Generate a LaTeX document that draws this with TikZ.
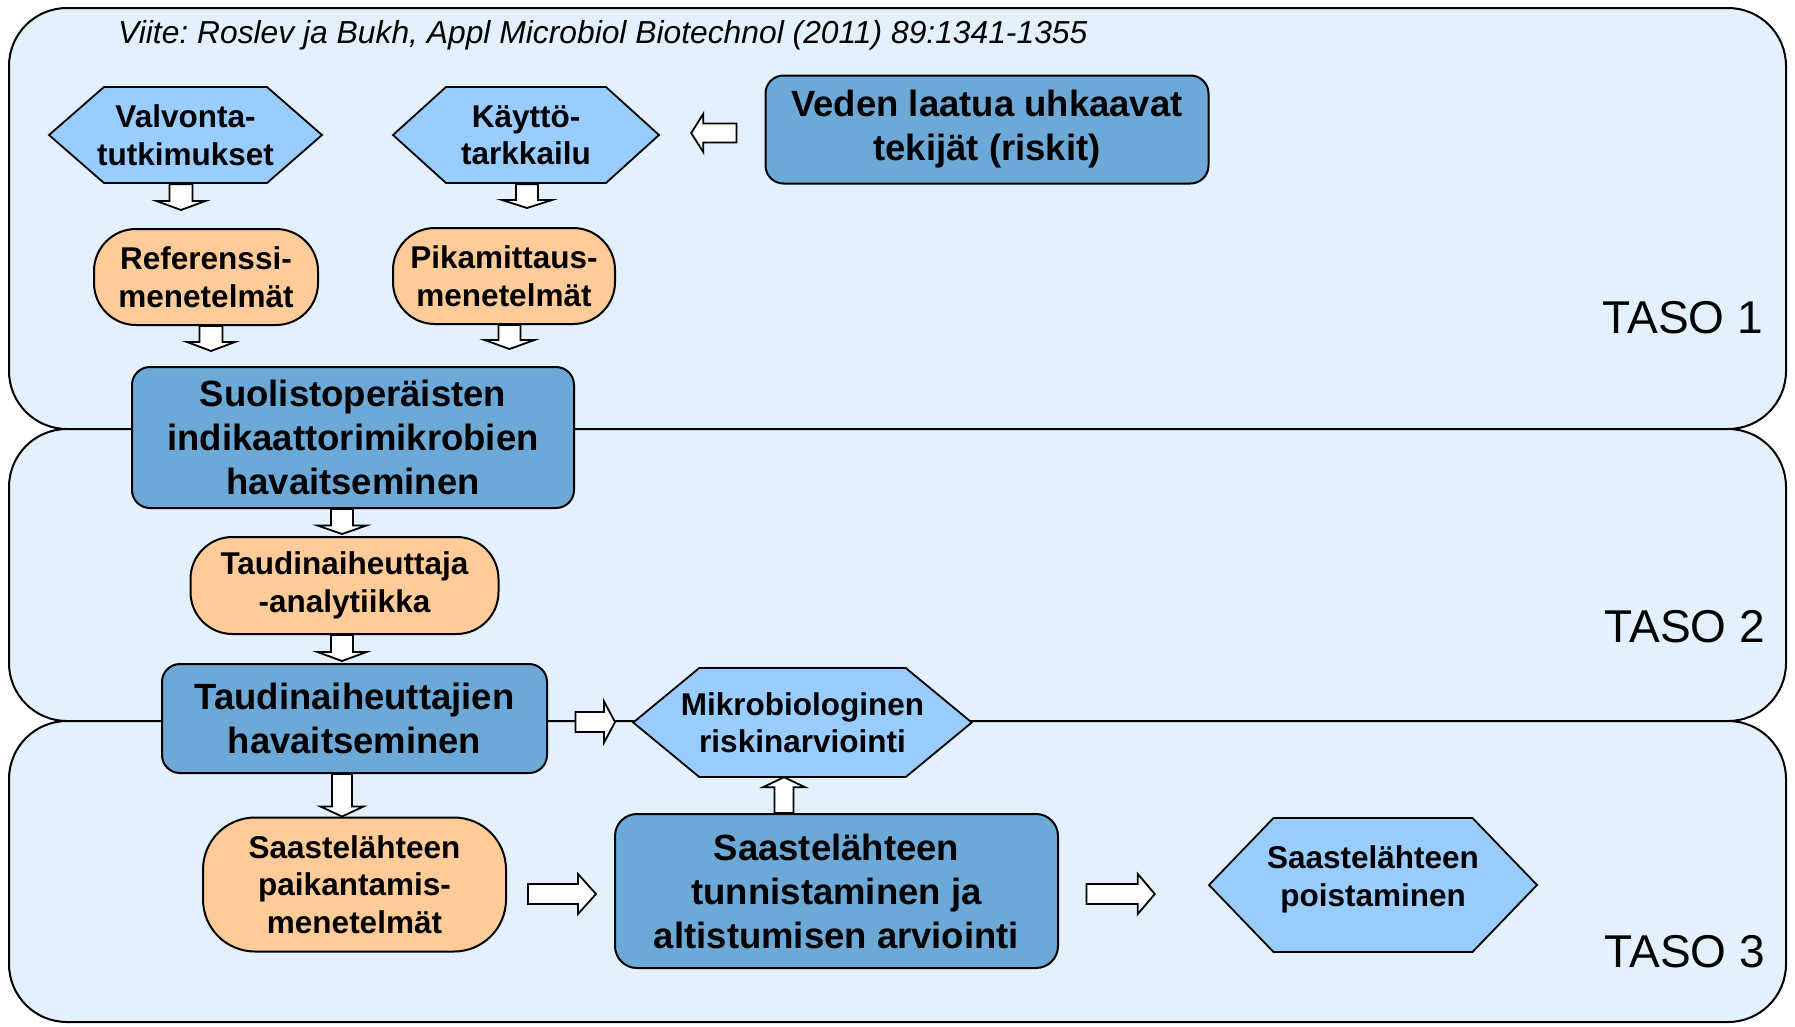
\documentclass[tikz,border=0pt]{standalone}
\usepackage{fontspec}
\setmainfont{Liberation Sans}
\usetikzlibrary{calc}
\frenchspacing
\definecolor{bandfill}{HTML}{E3F0FD}
\definecolor{hexfill}{HTML}{99CCFF}
\definecolor{darkfill}{HTML}{6CA9D7}
\definecolor{orangefill}{HTML}{FFCC99}
\tikzset{
  band/.style={draw=black, fill=bandfill, line width=2pt, rounded corners=58pt},
  barrow/.style={draw=black, fill=white, line width=1.8pt, line join=miter},
  hexsty/.style={draw=black, fill=hexfill, line width=1.8pt, line join=miter},
  smalltxt/.style={align=center, inner sep=0pt, font=\bfseries\fontsize{31.5}{37.5}\selectfont},
  darkbox/.style={draw=black, line width=2pt, fill=darkfill, rounded corners=18pt, align=center, inner sep=0pt, font=\bfseries\fontsize{36.5}{44}\selectfont},
  orangebox/.style={draw=black, line width=2pt, fill=orangefill, rounded corners=42pt, align=center, inner sep=0pt, font=\bfseries\fontsize{31.5}{37.5}\selectfont},
  tasotxt/.style={anchor=east, inner sep=0pt, font=\fontsize{46}{50}\selectfont}
}
% block arrows: #1 start, #2 tip, #3 shaft half width, #4 head half width, #5 head length
\newcommand\downarrowblk[5]{\draw[barrow] let \p1=(#1), \p2=(#2) in
  (\x1-#3pt,\y1) -- (\x1+#3pt,\y1) -- (\x1+#3pt,\y2+#5pt) -- (\x1+#4pt,\y2+#5pt) -- (\x1,\y2) -- (\x1-#4pt,\y2+#5pt) -- (\x1-#3pt,\y2+#5pt) -- cycle;}
\newcommand\uparrowblk[5]{\draw[barrow] let \p1=(#1), \p2=(#2) in
  (\x1-#3pt,\y1) -- (\x1+#3pt,\y1) -- (\x1+#3pt,\y2-#5pt) -- (\x1+#4pt,\y2-#5pt) -- (\x1,\y2) -- (\x1-#4pt,\y2-#5pt) -- (\x1-#3pt,\y2-#5pt) -- cycle;}
\newcommand\rightarrowblk[5]{\draw[barrow] let \p1=(#1), \p2=(#2) in
  (\x1,\y1-#3pt) -- (\x2-#5pt,\y1-#3pt) -- (\x2-#5pt,\y1-#4pt) -- (\x2,\y1) -- (\x2-#5pt,\y1+#4pt) -- (\x2-#5pt,\y1+#3pt) -- (\x1,\y1+#3pt) -- cycle;}
\newcommand\leftarrowblk[5]{\draw[barrow] let \p1=(#1), \p2=(#2) in
  (\x1,\y1-#3pt) -- (\x2+#5pt,\y1-#3pt) -- (\x2+#5pt,\y1-#4pt) -- (\x2,\y1) -- (\x2+#5pt,\y1+#4pt) -- (\x2+#5pt,\y1+#3pt) -- (\x1,\y1+#3pt) -- cycle;}
% hexagon node: #1 name, #2 cx, #3 cy, #4 width, #5 height, #6 slant, #7 text
\newcommand\hexnode[7]{%
  \draw[hexsty] (#2-#4/2,#3) -- (#2-#4/2+#6,#3-#5/2) -- (#2+#4/2-#6,#3-#5/2) -- (#2+#4/2,#3) -- (#2+#4/2-#6,#3+#5/2) -- (#2-#4/2+#6,#3+#5/2) -- cycle;
  \node[smalltxt, minimum width=#4pt, minimum height=#5pt] (#1) at (#2,#3) {#7};}
\begin{document}
\begin{tikzpicture}[x=1pt, y=-1pt]
\useasboundingbox (0,0) rectangle (1795,1026);
% bands
\draw[band] (9,8) rectangle (1786,429);
\draw[band] (9,429) rectangle (1786,721);
\draw[band] (9,721) rectangle (1786,1022);
% citation and level labels
\node[anchor=west, inner sep=0pt, font=\itshape\fontsize{31.8}{36}\selectfont] (cite) at (118,35.5) {Viite: Roslev ja Bukh, Appl Microbiol Biotechnol (2011) 89:1341-1355};
\node[tasotxt] (taso1) at (1763,318) {TASO 1};
\node[tasotxt] (taso2) at (1765,627) {TASO 2};
\node[tasotxt] (taso3) at (1765,952) {TASO 3};
% nodes
\hexnode{val}{185.5}{135}{273}{96}{55}{Valvonta-\\tutkimukset}
\hexnode{kay}{526}{135}{266}{96}{53}{Käyttö-\\tarkkailu}
\node[darkbox, minimum width=443pt, minimum height=108pt] (veden) at (987,129.5) {Veden laatua uhkaavat\\tekijät (riskit)};
\node[orangebox, minimum width=224pt, minimum height=96pt] (ref) at (206,277) {Referenssi-\\menetelmät};
\node[orangebox, minimum width=222pt, minimum height=96pt] (pika) at (504,276) {Pikamittaus-\\menetelmät};
\node[darkbox, minimum width=442pt, minimum height=141pt] (suo) at (353,437.5) {Suolistoperäisten\\indikaattorimikrobien\\havaitseminen};
\node[orangebox, minimum width=308pt, minimum height=97pt] (tana) at (344.5,585.5) {Taudinaiheuttaja\\-analytiikka};
\node[darkbox, minimum width=385pt, minimum height=109pt] (tahav) at (354.5,718.5) {Taudinaiheuttajien\\havaitseminen};
\hexnode{mikro}{802.5}{722.5}{338.5}{109}{66}{Mikrobiologinen\\riskinarviointi}
\node[orangebox, rounded corners=52pt, minimum width=303pt, minimum height=134pt] (paik) at (354.5,884.5) {Saastelähteen\\paikantamis-\\menetelmät};
\node[darkbox, rounded corners=22pt, minimum width=443pt, minimum height=154pt] (tunn) at (836.5,891) {Saastelähteen\\tunnistaminen ja\\altistumisen arviointi};
\hexnode{pois}{1373}{885}{328}{134}{64.5}{\raisebox{0pt}[\height][\dimexpr\depth+10pt\relax]{\begin{tabular}{@{}c@{}}Saastelähteen\\poistaminen\end{tabular}}}
% block arrows
\leftarrowblk{$(veden.west)+(-28,3.5)$}{$(kay.east)+(32,0)$}{9.5}{19}{12}
\downarrowblk{$(val.south)+(-4.5,1)$}{$(ref.north)+(0,-18)$}{11.5}{24.5}{9}
\downarrowblk{$(kay.south)+(1,1)$}{$(pika.north)+(0,-19)$}{11}{25}{8}
\downarrowblk{$(ref.south)+(5,0)$}{$(suo.north)+(0,-15)$}{11.5}{24}{9}
\downarrowblk{$(pika.south)+(5.5,0)$}{$(suo.north)+(0,-17)$}{11}{25}{9}
\downarrowblk{$(suo.south)+(-11,0)$}{$(tana.north)+(0,-2)$}{11}{24.5}{8.5}
\downarrowblk{$(tana.south)+(-2.5,0)$}{$(tahav.north)+(0,-2)$}{11}{24.5}{9}
\downarrowblk{$(tahav.south)+(-12.5,0)$}{paik.north}{10}{21.5}{10}
\rightarrowblk{$(tahav.east)+(27.5,3.5)$}{$(mikro.west)+(-18,0)$}{10}{20.5}{11}
\uparrowblk{$(tunn.north)+(-52.5,0)$}{mikro.south}{9.5}{21}{10}
\rightarrowblk{$(paik.east)+(21,9.5)$}{$(tunn.west)+(-18,0)$}{10}{20}{18}
\rightarrowblk{$(tunn.east)+(27.5,3)$}{$(pois.west)+(-54,0)$}{10}{20}{17}
\end{tikzpicture}
\end{document}
